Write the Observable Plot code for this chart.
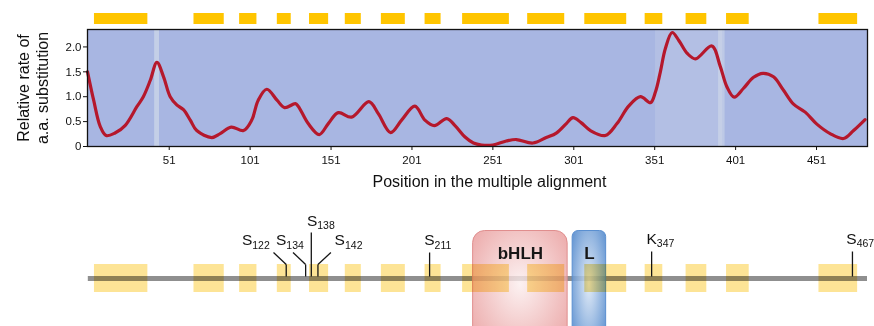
<!DOCTYPE html>
<html><head><meta charset="utf-8">
<script src="https://cdn.jsdelivr.net/npm/d3@7"></script>
<script src="https://cdn.jsdelivr.net/npm/@observablehq/plot@0.6"></script>
<style>
html,body{margin:0;padding:0;background:#fff;}
#chart{width:874px;height:326px;overflow:hidden;font-family:"Liberation Sans",Arial,sans-serif;}
#chart svg{display:block;}
</style></head><body><div id="chart"></div>
<script>
// ---------- data ----------
const curvePos  = [0.5,4.3,8.4,12,17.5,23.7,31,35,39.3,43.4,47.5,51.6,55.8,59.8,64,68,77.3,82.5,89.3,96.9,102,106,111.3,117.6,122.3,128.9,130.7,136.9,143.7,149.3,155.5,163.7,174.4,180.2,187.8,194.6,202.8,209,214.8,222.5,227.6,233.8,239,244,251,259.3,265.5,275.7,284,290.2,296.4,300.5,305.5,311.3,320.5,327.7,334.9,342.2,348.4,351.5,354.5,357.6,361.8,365.9,371.1,376.2,386.3,391.5,395.6,400.1,405.9,412.1,417.9,424.4,430.6,436.8,444,451.2,459.4,467.7,473.9,481];
const curveRate = [1.50,0.93,0.40,0.22,0.27,0.42,0.80,1.0,1.33,1.69,1.40,1.0,0.83,0.74,0.53,0.32,0.18,0.26,0.39,0.32,0.53,0.93,1.15,0.93,0.78,0.86,0.81,0.46,0.24,0.46,0.68,0.59,0.90,0.66,0.28,0.53,0.81,0.53,0.42,0.56,0.42,0.19,0.07,0.03,0.03,0.11,0.14,0.07,0.18,0.27,0.46,0.58,0.48,0.32,0.22,0.46,0.81,1.0,0.88,1.10,1.50,1.97,2.29,2.13,1.87,1.76,2.02,1.61,1.2,0.99,1.17,1.39,1.47,1.40,1.13,0.85,0.69,0.45,0.26,0.16,0.32,0.54];

const blockStart = [4.8,66.3,94.5,117.8,137.7,159.8,182.1,209.1,232.3,272.5,307.8,345.1,370.4,395.4,452.5];
const blockEnd   = [37.8,85.0,105.2,126.4,149.5,169.7,196.9,219.0,261.2,295.4,333.7,356.0,383.2,409.4,476.4];

const xTicks = [51,101,151,201,251,301,351,401,451];
const yTicks = [0,0.5,1,1.5,2];
const yTickLabels = ["0","0.5","1.0","1.5","2.0"];

const lightStart = [42,351.5,390.5];
const lightEnd   = [45,393,394.5];
const lightAmount = [0.4,0.16,0.3];

const proteinSpan = [1,482.5];
const siteResidue = ["S","S","S","S","S","K","S"];
const siteNumber  = ["122","134","138","142","211","347","467"];
const sitePos     = [123.3,135.3,138.8,142.9,211.9,349.1,473.2];

const domainName  = ["bHLH","L"];
const domainStart = [238.8,300.3];
const domainEnd   = [297.2,321.0];

// ---------- layout (not data) ----------
const siteBend       = [-7.85,-7.8,0,8,0,0,0];
const siteTop        = [26,26,46,26,26,27,27];
const siteLabelShift = [-19.55,-10.5,-2.7,2.3,-3.3,-3.2,-3.8];
const siteLabelY     = [33.3,33.3,52.6,33.3,33.3,35,35];

// ---------- tables ----------
const curve = curvePos.map((p,i)=>({pos:p, rate:curveRate[i]}));
const blocks = blockStart.map((s,i)=>({start:s, end:blockEnd[i]}));
const light = lightStart.map((s,i)=>({start:s,end:lightEnd[i],amt:lightAmount[i]}));
const sites = sitePos.map((p,i)=>({pos:p,res:siteResidue[i],num:siteNumber[i],bend:siteBend[i],top:siteTop[i],shift:siteLabelShift[i],ly:siteLabelY[i]}));
const domains = domainName.map((n,i)=>({name:n,start:domainStart[i],end:domainEnd[i]}));

const segs = [];
sites.forEach(s=>{
  if (s.bend !== 0) {
    segs.push({x1:s.pos,y1:2,x2:s.pos,y2:14});
    segs.push({x1:s.pos,y1:14,x2:s.pos+s.bend,y2:s.top});
  } else {
    segs.push({x1:s.pos,y1:2,x2:s.pos,y2:s.top});
  }
});

const FONT = "Liberation Sans, Arial, Helvetica, sans-serif";
const xDomain = [0.5, 482.5];
const W = 874, ML = 87, MR = 7;

// ---------- top panel ----------
const topPlot = Plot.plot({
  width: W, height: 196, marginLeft: ML, marginRight: MR, marginTop: 29, marginBottom: 50,
  style: {fontFamily: FONT, fontSize: "11.5px", color: "#111", background: "transparent", overflow: "visible"},
  x: {domain: xDomain},
  y: {domain: [0, 2.35]},
  marks: [
    Plot.frame({fill: "#a8b6e2"}),
    Plot.rect(light, {x1: "start", x2: "end", fill: "#eef4f0", fillOpacity: "amt"}),
    Plot.line(curve, {x: "pos", y: "rate", curve: "catmull-rom", stroke: "#b5182c", strokeWidth: 3.2}),
    Plot.frame({stroke: "#111", strokeWidth: 1.3}),
    Plot.rect(blocks, {x1: "start", x2: "end", fill: "#ffc500", insetTop: -16, insetBottom: 122}),
    Plot.axisX(xTicks, {tickSize: 4, tickPadding: 5, fontSize: 11.5, label: null, stroke: "#111"}),
    Plot.axisY(yTicks, {tickSize: 4, tickPadding: 2, fontSize: 11.5, label: null, stroke: "#111", tickFormat: d => yTickLabels[yTicks.indexOf(d)]}),
    Plot.text(["Position in the multiple alignment"], {frameAnchor: "bottom", dy: 40.7, dx: 12, fontSize: 16, lineAnchor: "bottom", fill: "#111"}),
    Plot.text(["Relative rate of\na.a. substitution"], {frameAnchor: "left", textAnchor: "middle", rotate: -90, dx: -55, fontSize: 16, lineHeight: 1.16, fill: "#111"})
  ]
});

// ---------- bottom panel ----------
const defsMark = () => {
  const ns = "http://www.w3.org/2000/svg";
  const defs = document.createElementNS(ns, "defs");
  defs.innerHTML = `
    <radialGradient id="gradBHLH" cx="0.5" cy="0.42" r="0.62">
      <stop offset="0" stop-color="#fbeeee"/>
      <stop offset="1" stop-color="#e89898"/>
    </radialGradient>
    <radialGradient id="gradL" cx="0.5" cy="0.42" r="0.6">
      <stop offset="0" stop-color="#dde8f6"/>
      <stop offset="1" stop-color="#4f87cc"/>
    </radialGradient>`;
  return defs;
};

const bottomPlot = Plot.plot({
  width: W, height: 130, marginLeft: ML, marginRight: MR, marginTop: 0, marginBottom: 0,
  style: {fontFamily: FONT, color: "#111", background: "transparent", overflow: "hidden"},
  x: {domain: xDomain, axis: null},
  y: {domain: [-48, 82], axis: null},
  marks: [
    defsMark,
    Plot.ruleY([0], {x1: proteinSpan[0], x2: proteinSpan[1], stroke: "#8f8f8f", strokeWidth: 5}),
    Plot.rect(domains.slice(0,1), {x1: "start", x2: "end", y1: -80, y2: 47.5, rx: 12, fill: "url(#gradBHLH)", fillOpacity: 0.8, stroke: "#e08e8e", strokeWidth: 1}),
    Plot.rect(domains.slice(1,2), {x1: "start", x2: "end", y1: -80, y2: 47.5, rx: 6, fill: "url(#gradL)", fillOpacity: 0.85, stroke: "#5a8fd0", strokeWidth: 1}),
    Plot.rect(blocks, {x1: "start", x2: "end", y1: -14, y2: 14, fill: "#fde496", mixBlendMode: "multiply"}),
    Plot.text(domains, {x: d => (d.start + d.end) / 2, y: 19.2, text: "name", lineAnchor: "bottom", fontWeight: "bold", fontSize: 17, fill: "#161616"}),
    Plot.link(segs, {x1: "x1", y1: "y1", x2: "x2", y2: "y2", stroke: "#151515", strokeWidth: 1.3, curve: "linear"}),
    Plot.text(sites, {x: d => d.pos + d.bend + d.shift, y: "ly", text: d => d.res + d.num, textAnchor: "start", lineAnchor: "bottom", fontSize: 15.5, fill: "#111"})
  ]
});

// subscripts for residue numbers
const ns = "http://www.w3.org/2000/svg";
bottomPlot.querySelectorAll('text').forEach(t => {
  const s = sites.find(d => d.res + d.num === t.textContent);
  if (!s) return;
  t.textContent = "";
  const a = document.createElementNS(ns, "tspan");
  a.textContent = s.res;
  const b = document.createElementNS(ns, "tspan");
  b.textContent = s.num;
  b.setAttribute("font-size", "10.5");
  b.setAttribute("dy", "3.3");
  t.appendChild(a); t.appendChild(b);
});

const chart = document.getElementById("chart");
chart.appendChild(topPlot);
chart.appendChild(bottomPlot);
</script>
</body></html>
